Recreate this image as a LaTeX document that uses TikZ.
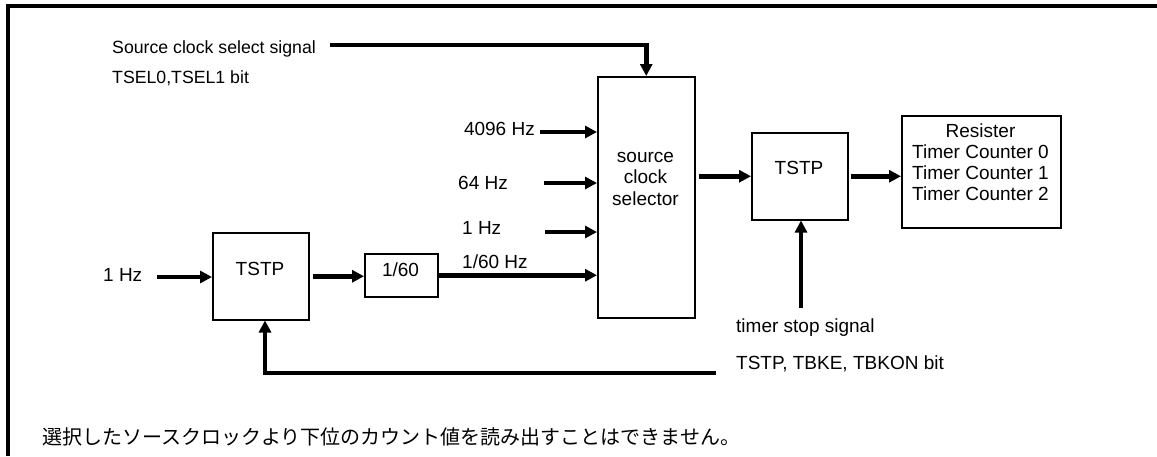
\documentclass[tikz,border=0pt]{standalone}
\usepackage{fontspec}
\setmainfont{Liberation Sans}
\newfontfamily\jpfont{Noto Sans CJK JP}
\usetikzlibrary{arrows.meta}
\begin{document}
\begin{tikzpicture}[x=1pt,y=-1pt,
  box/.style={draw, line width=1.5pt, inner sep=0pt, anchor=north west},
  lbl/.style={inner sep=0pt, anchor=base west, font=\fontsize{19}{21}\selectfont},
  clbl/.style={inner sep=0pt, anchor=base, font=\fontsize{19}{21}\selectfont},
  slbl/.style={inner sep=0pt, anchor=base west, font=\fontsize{17.7}{20}\selectfont},
  sig/.style={line width=4.5pt, line join=miter, -{Triangle[length=12pt,width=12pt]}},
  frame/.style={line width=4pt, line join=miter}
]
\useasboundingbox (0,0) rectangle (1157,456);
\draw[frame] (8,456) -- (8,6) -- (1157,6);

% boxes
\node[box, minimum width=97pt, minimum height=241pt] (sel) at (597,76) {};
\node[box, minimum width=96pt, minimum height=87pt] (tstp1) at (212,232) {};
\node[box, minimum width=73pt, minimum height=43pt] (div) at (364,253) {};
\node[box, minimum width=96pt, minimum height=87pt] (tstp2) at (751,132) {};
\node[box, minimum width=159pt, minimum height=112pt] (res) at (901,115) {};

% box texts
\node[clbl] (seltxt1) at (645.5,162) {source};
\node[clbl] (seltxt2) at (645.5,183.5) {clock};
\node[clbl] (seltxt3) at (645.5,205) {selector};
\node[clbl] (tstp1txt) at (260,275) {TSTP};
\node[clbl] (divtxt) at (400.5,276) {1/60};
\node[clbl] (tstp2txt) at (799,174) {TSTP};
\node[clbl] (restxt1) at (980.5,137) {Resister};
\node[clbl] (restxt2) at (980.5,158) {Timer Counter 0};
\node[clbl] (restxt3) at (980.5,179) {Timer Counter 1};
\node[clbl] (restxt4) at (980.5,200) {Timer Counter 2};

% labels
\node[slbl] (srcsel) at (112,53) {Source clock select signal};
\node[slbl] (tsel) at (112,83) {TSEL0,TSEL1 bit};
\node[lbl, anchor=base east] (f4096) at (535,135) {4096 Hz};
\node[lbl] (f64) at (458,189) {64 Hz};
\node[lbl] (f1) at (462,234) {1 Hz};
\node[lbl] (f160) at (462,268) {1/60 Hz};
\node[lbl] (in1hz) at (103,281) {1 Hz};
\node[lbl] (tstop) at (736,332) {timer stop signal};
\node[lbl] (tbits) at (736,369) {TSTP, TBKE, TBKON bit};
\node[inner sep=0pt, anchor=base west, font=\jpfont\fontsize{20}{22}\selectfont] (note) at (42,444)
  {選択したソースクロックより下位のカウント値を読み出すことはできません。};

% connector end points
\coordinate (cs) at (330,45);
\coordinate (c4096) at (540,132);
\coordinate (c64) at (544,183);
\coordinate (c1) at (545,232);
\coordinate (cin) at (157,277);
\coordinate (cstop) at (801,308);
\coordinate (cfb) at (716,373);
\coordinate (cfbx) at (265,373);

% connectors
\draw[sig] (cs) -- (cs -| sel.north) -- (sel.north);
\draw[sig] (c4096) -- (c4096 -| sel.west);
\draw[sig] (c64) -- (c64 -| sel.west);
\draw[sig] (c1) -- (c1 -| sel.west);
\draw[sig] (div.east) -- (div.east -| sel.west);
\draw[sig] (cin) -- (cin -| tstp1.west);
\draw[sig] ([xshift=3pt]tstp1.east) -- (tstp1.east -| div.west);
\draw[sig] ([xshift=3pt]sel.east |- tstp2.west) -- (tstp2.west);
\draw[sig] ([xshift=2pt]tstp2.east) -- (tstp2.east -| res.west);
\draw[sig] (cstop) -- (cstop |- tstp2.south);
\draw[sig] (cfb) -- (cfbx) -- (cfbx |- tstp1.south);
\end{tikzpicture}
\end{document}
